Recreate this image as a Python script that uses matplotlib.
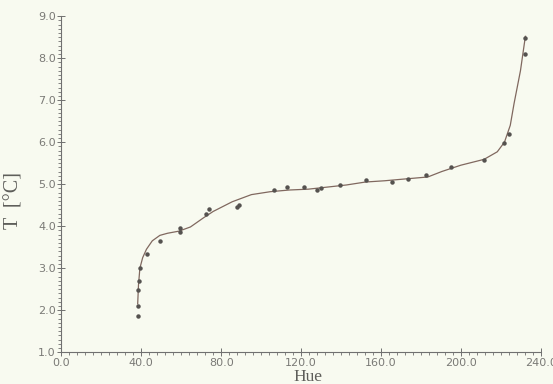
import matplotlib.pyplot as plt
from matplotlib.ticker import MultipleLocator, FormatStrFormatter

# measured points (hue, temperature)
hue = [38.2, 38.2, 38.6, 39.1, 39.6, 42.7, 49.4, 59.3, 59.3, 72.4, 73.9,
       88.0, 88.8, 106.2, 112.8, 121.6, 127.8, 130.1, 139.4, 152.6,
       165.4, 173.7, 182.5, 194.9, 211.5, 221.8, 224.0, 231.9, 232.2]
temp = [1.86, 2.10, 2.49, 2.69, 3.00, 3.33, 3.64, 3.87, 3.95, 4.30, 4.40,
        4.46, 4.50, 4.86, 4.94, 4.94, 4.87, 4.90, 4.98, 5.11,
        5.04, 5.12, 5.21, 5.41, 5.57, 5.98, 6.20, 8.09, 8.49]

# fitted curve
fit_hue = [38.2, 38.6, 39.3, 40.7, 42.6, 45.5, 49.3, 53.1, 58.8, 64.6, 71.2,
           76.0, 85.5, 95.1, 104.6, 114.1, 123.6, 133.2, 142.7, 152.2, 161.8,
           171.3, 183.4, 190.4, 199.9, 211.6, 218.2, 221.8, 224.7, 226.6,
           229.8, 232.0, 232.3]
fit_temp = [2.15, 2.6, 3.0, 3.25, 3.45, 3.65, 3.78, 3.83, 3.88, 3.98, 4.2,
            4.35, 4.58, 4.75, 4.82, 4.86, 4.88, 4.93, 4.98, 5.05, 5.08, 5.12,
            5.17, 5.3, 5.45, 5.59, 5.77, 6.0, 6.4, 6.92, 7.7, 8.43, 8.52]

bg = '#f8faf0'
ink = '#707070'

fig = plt.figure(figsize=(5.53, 3.84), dpi=100, facecolor=bg)
ax = fig.add_axes([0.111, 0.083, 0.867, 0.875], facecolor=bg)

ax.plot(fit_hue, fit_temp, color='#80685f', lw=0.9, clip_on=False)
ax.plot(hue, temp, 'o', color='#55524f', ms=2.2, clip_on=False)

ax.set_xlim(0, 240)
ax.set_ylim(1, 9)
ax.xaxis.set_major_locator(MultipleLocator(40))
ax.xaxis.set_minor_locator(MultipleLocator(4))
ax.yaxis.set_major_locator(MultipleLocator(1))
ax.yaxis.set_minor_locator(MultipleLocator(0.1))
ax.xaxis.set_major_formatter(FormatStrFormatter('%.1f'))
ax.yaxis.set_major_formatter(FormatStrFormatter('%.1f'))

for s in ['top', 'right']:
    ax.spines[s].set_visible(False)
for s in ['left', 'bottom']:
    ax.spines[s].set_color(ink)
    ax.spines[s].set_linewidth(0.8)

ax.tick_params(which='major', direction='inout', length=6, width=0.7,
               color=ink, labelsize=8, labelcolor='#7a7a76', pad=1)
ax.tick_params(which='minor', direction='out', length=2.5, width=0.6, color=ink)

lab = {'family': 'Liberation Serif', 'size': 12.5, 'color': '#5e5e5a'}
ax.set_xlabel('Hue', fontdict=lab)
ax.set_ylabel('T  [°C]', fontdict=dict(lab, size=14.5))
ax.xaxis.set_label_coords(0.514, -0.05)
ax.yaxis.set_label_coords(-0.078, 0.452)

fig.savefig('out.png', dpi=100, facecolor=bg)
